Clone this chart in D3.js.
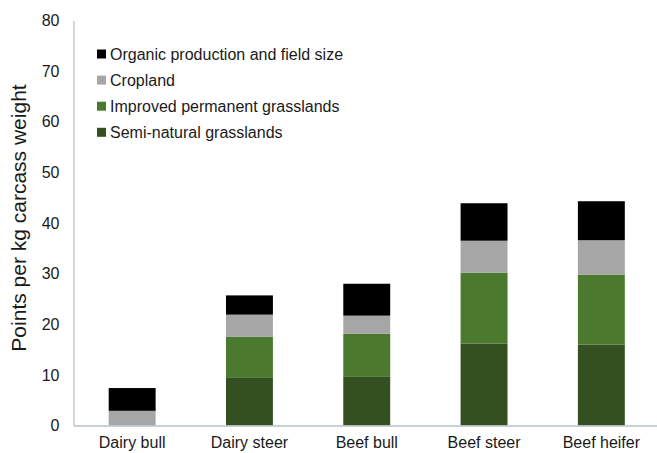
<!DOCTYPE html>
<html>
<head>
<meta charset="utf-8">
<script src="https://cdn.jsdelivr.net/npm/d3@7"></script>
<style>
  html, body { margin: 0; padding: 0; background: #fff; }
  svg { display: block; font-family: "Liberation Sans", Arial, sans-serif; }
</style>
</head>
<body>
<svg id="chart" width="657" height="453"></svg>
<script>
const categories = ["Dairy bull", "Dairy steer", "Beef bull", "Beef steer", "Beef heifer"];
const seriesNames = ["Semi-natural grasslands", "Improved permanent grasslands", "Cropland", "Organic production and field size"];
const semiNatural = [0, 9.4, 9.6, 16.2, 16.0];
const improvedPermanent = [0, 8.1, 8.5, 14.0, 13.8];
const cropland = [2.9, 4.4, 3.6, 6.3, 6.8];
const organicFieldSize = [4.5, 3.8, 6.3, 7.4, 7.7];
const yTicks = [0, 10, 20, 30, 40, 50, 60, 70, 80];
const colors = ["#344f20", "#4b7a2e", "#a6a6a6", "#000000"];

const seriesValues = [semiNatural, improvedPermanent, cropland, organicFieldSize];
const rows = categories.map((c, i) => {
  const r = { category: c };
  seriesNames.forEach((s, j) => r[s] = seriesValues[j][i]);
  return r;
});
const stacked = d3.stack().keys(seriesNames)(rows);

const svg = d3.select("#chart");
const y = d3.scaleLinear().domain([0, 80]).range([425.5, 20.5]);
const x = d3.scaleBand().domain(categories).range([73.5, 660]).paddingInner(0.6).paddingOuter(0.3);
const color = d3.scaleOrdinal().domain(seriesNames).range(colors);

// bars
svg.append("g").selectAll("g").data(stacked).join("g")
  .attr("fill", d => color(d.key))
  .selectAll("rect").data(d => d).join("rect")
  .attr("x", d => x(d.data.category))
  .attr("width", x.bandwidth())
  .attr("y", d => y(d[1]))
  .attr("height", d => Math.max(0, y(d[0]) - y(d[1])));

// y axis
const yAxis = svg.append("g").attr("transform", "translate(73.5,0)")
  .call(d3.axisLeft(y).tickValues(yTicks).tickSize(0).tickPadding(14));
yAxis.select(".domain").attr("stroke", "#b9c0cb").attr("stroke-width", 1.3);
yAxis.selectAll("text").attr("font-size", 16).attr("fill", "#1a1a1a")
  .attr("font-family", "Liberation Sans, Arial, sans-serif");

// x axis
const xAxis = svg.append("g").attr("transform", "translate(0,425.5)")
  .call(d3.axisBottom(x).tickSize(0).tickPadding(11));
xAxis.select(".domain").attr("stroke", "#b9c0cb").attr("stroke-width", 1.3);
xAxis.selectAll("text").attr("font-size", 16).attr("fill", "#1a1a1a")
  .attr("font-family", "Liberation Sans, Arial, sans-serif");

// y title
svg.append("text")
  .attr("transform", "translate(26,218) rotate(-90)")
  .attr("text-anchor", "middle")
  .attr("font-size", 21)
  .attr("fill", "#1a1a1a")
  .text("Points per kg carcass weight");

// legend (reverse order)
const legendItems = seriesNames.slice().reverse();
const lg = svg.append("g").selectAll("g").data(legendItems).join("g")
  .attr("transform", (d, i) => `translate(97,${54 + i * 26.1})`);
lg.append("rect").attr("x", 0).attr("y", -4.5).attr("width", 9).attr("height", 9)
  .attr("fill", d => color(d));
lg.append("text").attr("x", 13).attr("y", 5.5).attr("font-size", 16).attr("fill", "#1a1a1a")
  .text(d => d);
</script>
</body>
</html>
